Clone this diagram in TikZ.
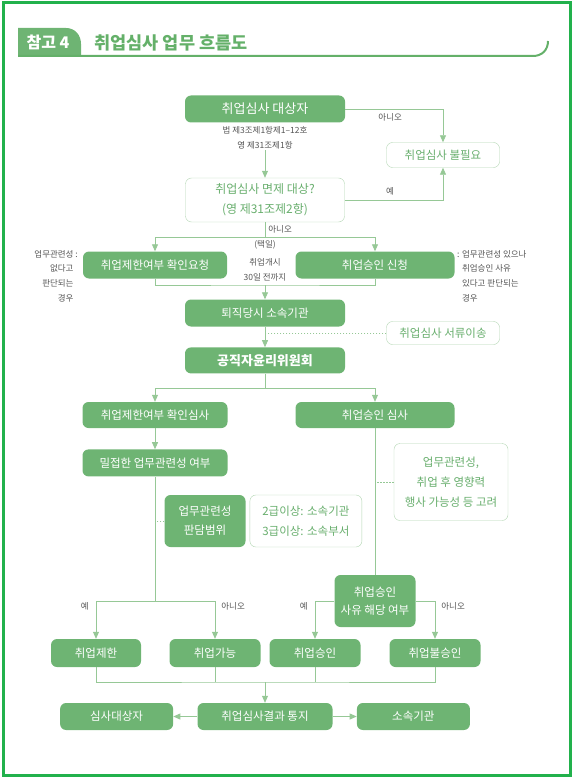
\documentclass[tikz,border=0pt]{standalone}
\usepackage{fontspec}
\setmainfont{Noto Sans CJK KR}
\usepackage{tikz}
\usetikzlibrary{arrows.meta}
\usetikzlibrary{positioning}

\definecolor{boxgreen}{RGB}{110,180,115}
\definecolor{linegreen}{RGB}{150,200,150}
\definecolor{memoline}{RGB}{178,214,178}
\definecolor{memotext}{RGB}{105,175,110}
\definecolor{framegreen}{RGB}{34,177,76}
\definecolor{titlegreen}{RGB}{100,176,105}
\definecolor{labelgray}{RGB}{85,85,85}

\begin{document}
\begin{tikzpicture}[
    x=1pt, y=-1pt,
    >={Triangle[width=6pt,length=7pt]},
    action/.style   = {fill=boxgreen, text=white, rounded corners=6pt, align=center,
                       inner sep=0pt, minimum height=27pt, font=\fontsize{11.5}{19}\selectfont},
    memo/.style     = {draw=memoline, fill=white, text=memotext, rounded corners=6pt,
                       align=center, inner sep=0pt, font=\fontsize{11.5}{20}\selectfont},
    remark/.style   = {text=labelgray, inner sep=1pt, font=\fontsize{8.5}{14.7}\selectfont},
    edge/.style     = {draw=linegreen, line width=0.8pt, ->},
    link/.style     = {draw=linegreen, line width=0.8pt},
    dashlink/.style = {link, dash pattern=on 1.5pt off 1.5pt},
  ]
  \useasboundingbox (0,0) rectangle (573,778);
  \draw[framegreen, line width=3pt] (3,3) rectangle (570,775);

  % title
  \fill[boxgreen] (18,57) -- (18,28) -- (66,28) .. controls (75,28) and (81,35) .. (81,44)
    -- (81,57) -- cycle;
  \draw[titlegreen, line width=2pt] (18,56) -- (533,56) .. controls (542,56) and (548,50) .. (548,41);
  \node[text=white, font=\fontsize{16}{16}\bfseries\selectfont] (tag) at (48,42.5) {참고 4};
  \node[text=titlegreen, anchor=west, font=\fontsize{17.5}{17.5}\bfseries\selectfont] (title) at (91,42.5) {취업심사 업무 흐름도};

  % nodes
  \node[action, minimum width=160pt, font=\fontsize{13}{14}\selectfont] (target) at (265,109) {취업심사 대상자};
  \node[remark, align=center] (lawref) at (265,138) {법 제3조제1항제1–12호\\영 제31조제1항};
  \node[memo, minimum width=113pt, minimum height=25pt] (noneed) at (443,155) {취업심사 불필요};
  \node[memo, minimum width=159pt, minimum height=44pt, font=\fontsize{12}{20}\selectfont] (exempt) at (265,200) {취업심사 면제 대상?\\(영 제31조제2항)};
  \node[action, minimum width=144pt] (reqcheck) at (155,265) {취업제한여부 확인요청};
  \node[action, minimum width=159pt] (apply) at (375,265) {취업승인 신청};
  \node[remark] (choose) at (265,245) {(택일)};
  \node[remark, align=center] (deadline) at (265,269.5) {취업개시\\30일 전까지};
  \node[remark, align=right, anchor=north east] (nocase) at (79,249) {업무관련성 :\\없다고\phantom{ :}\\판단되는\phantom{ :}\\경우\phantom{ :}};
  \node[remark, align=left, anchor=north west] (yescase) at (456,249) {: 업무관련성 있으나\\\phantom{: }취업승인 사유\\\phantom{: }있다고 판단되는\\\phantom{: }경우};
  \node[action, minimum width=160pt] (formerorg) at (265,313) {퇴직당시 소속기관};
  \node[memo, minimum width=113pt, minimum height=23pt] (transfer) at (443,333) {취업심사 서류이송};
  \node[action, minimum width=160pt, minimum height=26pt, below=20.5pt of formerorg,
        font=\fontsize{13}{14}\bfseries\selectfont] (committee) {공직자윤리위원회};
  \node[action, minimum width=145pt, minimum height=26pt] (checkrev) at (155,415) {취업제한여부 확인심사};
  \node[action, minimum width=159pt, minimum height=26pt] (approverev) at (375,415) {취업승인 심사};
  \node[action, minimum width=145pt, below=21pt of checkrev] (closerel) {밀접한 업무관련성 여부};
  \node[memo, minimum width=114pt, minimum height=77pt] (factors) at (451,482) {업무관련성,\\취업 후 영향력\\행사 가능성 등 고려};
  \node[action, minimum width=81pt, minimum height=52pt] (relscope) at (205,521) {업무관련성\\판담범위};
  \node[memo, minimum width=112pt, minimum height=52pt, right=4pt of relscope] (grade) {2급이상: 소속기관\\3급이상: 소속부서};
  \node[action, minimum width=81pt, minimum height=52pt, font=\fontsize{11.5}{18}\selectfont] (reason) at (375,601) {취업승인\\사유 해당 여부};
  \node[action, minimum width=90pt, minimum height=28pt] (restrict) at (96,653) {취업제한};
  \node[action, minimum width=91pt, minimum height=28pt] (allowed) at (215,653) {취업가능};
  \node[action, minimum width=91pt, minimum height=28pt] (approved) at (315,653) {취업승인};
  \node[action, minimum width=91pt, minimum height=28pt] (denied) at (435,653) {취업불승인};
  \node[action, minimum width=135pt] (notify) at (265,716.5) {취업심사결과 통지};
  \node[action, minimum width=113pt, left=24pt of notify] (subject) {심사대상자};
  \node[action, minimum width=113pt, right=24pt of notify] (org) {소속기관};

  % connectors
  \coordinate (fork1) at (265,237);
  \coordinate (join1) at (265,285);
  \coordinate (fork2) at (265,388);
  \coordinate (fork3) at (155,601);
  \coordinate (join2) at (265,682);

  \draw[edge] (target.east) -| node[remark, pos=.23, below=3pt]{아니오} (noneed.north);
  \draw[edge] (lawref.south) -- (exempt.north);
  \draw[edge] (exempt.east) -| node[remark, pos=.23, above=3pt]{예} (noneed.south);
  \draw[link] (exempt.south) -- node[remark, right=2pt]{아니오} (fork1);
  \draw[edge] (fork1) -| (reqcheck.north);
  \draw[edge] (fork1) -| (apply.north);
  \draw[link] (reqcheck.south) |- (join1) -| (apply.south);
  \draw[edge] (join1) -- (formerorg.north);
  \draw[edge] (formerorg) -- (committee);
  \draw[dashlink] (transfer.west) -- (transfer.west -| formerorg.south);
  \draw[link] (committee.south) -- (fork2);
  \draw[edge] (fork2) -| (checkrev.north);
  \draw[edge] (fork2) -| (approverev.north);
  \draw[edge] (checkrev) -- (closerel);
  \draw[link] (closerel.south) -- (fork3);
  \draw[dashlink] (relscope.west) -- (relscope.west -| closerel.south);
  \draw[edge] (fork3) -| node[remark, pos=.5, anchor=north east, xshift=-6pt]{예} (restrict.north);
  \draw[edge] (fork3) -| node[remark, pos=.5, anchor=north west, xshift=5pt]{아니오} (allowed.north);
  \draw[link] (approverev.south) -- (reason.north);
  \draw[dashlink] (factors.west) -- (factors.west -| approverev.south);
  \draw[edge] (reason.west) -| node[remark, pos=.5, anchor=north east, xshift=-6pt]{예} (approved.north);
  \draw[edge] (reason.east) -| node[remark, pos=.5, anchor=north west, xshift=5pt]{아니오} (denied.north);
  \draw[link] (restrict.south) |- (join2) -| (denied.south);
  \draw[link] (allowed.south) -- (allowed.south |- join2);
  \draw[link] (approved.south) -- (approved.south |- join2);
  \draw[edge] (join2) -- (notify.north);
  \draw[edge] (notify) -- (subject);
  \draw[edge] (notify) -- (org);
\end{tikzpicture}
\end{document}
